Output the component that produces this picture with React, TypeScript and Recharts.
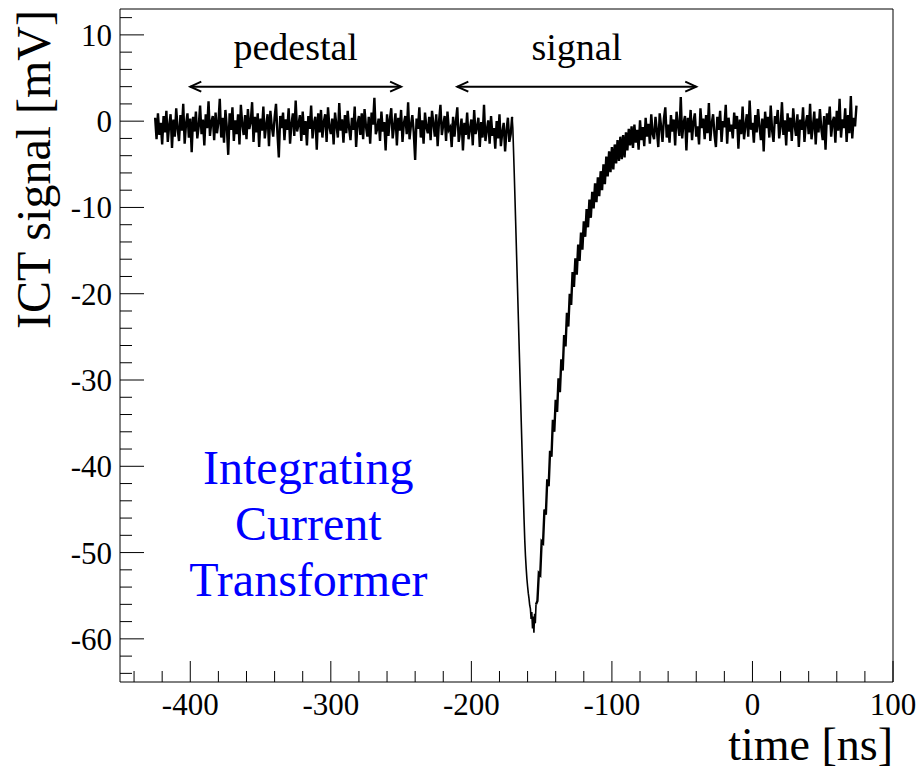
import {
  ComposedChart,
  Line,
  XAxis,
  YAxis,
  ReferenceLine,
  ReferenceDot,
} from "recharts";

const SERIF = "'Liberation Serif', 'Times New Roman', serif";

// pedestal + pre-signal samples, 1 ns apart, starting at -425 ns
const pedestalStart = -425;
const pedestalValues = [
  0.4, -2.1, 0.9, -1.6, -0.2, -2.7, 0.6, -1.3, 1.2, -2.4, -0.5, 0.8, -3.1, 0.2, -1.8,
  1.5, -0.9, -2.3, 0.7, -1.1, 2.0, -2.6, -0.3, 0.9, -1.9, 0.3, -3.6, 0.5, -1.2, 1.1,
  -2.0, -0.6, 1.8, -1.5, 0.2, -2.8, 0.8, -0.8, 2.3, -1.7, -0.1, 0.6, -2.2, 1.0, -1.4,
  -0.2, 2.6, -1.9, 0.4, -2.5, 1.3, -0.7, -3.9, 0.9, -1.0, 1.6, -2.3, 0.1, -1.5, 0.8,
  -2.7, 1.9, -0.4, -1.6, 0.7, -2.1, 1.4, -0.9, -0.1, 2.2, -2.4, 0.5, -1.3, 0.9, -3.0,
  0.3, -1.1, 1.7, -2.0, -0.5, 0.8, -2.9, 1.2, -0.6, -1.8, 0.4, 2.0, -1.4, -4.2, 0.6,
  -0.8, 1.0, -2.2, 0.2, -1.0, 1.5, -2.6, -0.3, 0.9, -1.7, 2.4, -1.2, -0.4, 0.7, -2.3,
  1.1, -1.6, 0.0, -2.8, 0.6, -0.9, 1.8, -2.0, -0.2, 0.5, -3.3, 0.9, -1.3, 1.3, -1.9,
  -0.1, 0.8, -2.4, 1.6, -0.7, -1.5, 0.3, -2.7, 1.0, -0.5, -1.9, 2.1, -1.1, 0.2, -2.5,
  0.7, -1.4, 1.2, -0.8, -2.2, 0.4, -1.0, 1.7, -3.0, -0.3, 0.6, -1.6, 0.9, -2.1, 1.4,
  -0.6, -1.8, 0.5, -2.6, 1.0, -0.4, 2.7, -1.5, -0.9, 0.3, -2.3, 1.1, -1.2, -0.1, -3.4,
  0.8, -1.7, 0.2, 1.5, -2.0, -0.6, 0.9, -2.8, 0.4, -1.1, 1.3, -2.4, -0.2, 0.6, -1.5,
  2.2, -2.1, -0.5, 0.7, -1.3, -4.5, 0.3, -0.9, 1.6, -1.9, 0.1, -2.6, 1.0, -0.7, -1.4,
  0.5, -2.2, 1.2, -0.3, -1.8, 0.8, -2.9, 0.0, 1.9, -1.6, -0.4, 0.6, -2.3, 1.1, -1.0,
  -0.7, -3.0, 0.5, -1.8, 0.0, 1.6, -2.4, -1.2, 0.3, -3.4, -0.2, -1.6, 1.0, -2.1, -0.9,
  0.2, -2.8, 1.3, -1.5, -0.7, 0.4, -3.0, -0.1, -1.9, 1.9, -2.3, -1.0, 0.1, -2.6, 0.6,
  -1.7, -0.8, -3.2, 0.0, -2.0, 0.8, -2.9, -1.3, -0.2, -3.5, -1.1, 0.4, -2.4, -1.5, 0.5,
];

// steep falling edge and minimum (starts at the last pedestal sample)
const pulseTimes = [
  -171, -170.5, -170, -169.5, -169, -168.5, -168, -167.5, -167, -166.5, -166, -165.5, -165,
  -164.5, -164, -163.5, -163, -162.5, -162, -161.5, -161, -160.5, -160, -159.5, -159,
  -158.5, -158, -157.5, -157, -156.5, -156, -155.5, -155, -154.5, -154,
];
const pulseValues = [
  0.5, -0.8, -3.4, -6.0, -8.8, -11.6, -14.5, -17.4, -20.3, -23.2, -26.1, -29.0, -31.9,
  -34.9, -37.8, -40.7, -43.5, -46.2, -48.6, -50.4, -51.8, -53.0, -53.9, -54.7, -55.3,
  -56.1, -56.5, -57.7, -56.9, -58.8, -57.4, -59.3, -57.1, -58.2, -56.0,
];

// recovery, 1 ns apart from -154 ns (first value = last pulse sample)
const recoveryStart = -154;
const recoveryValues = [
  -56.0, -55.6, -52.4, -52.6, -48.7, -48.9, -45.0, -45.6, -41.5, -42.3, -38.2,
  -38.9, -34.6, -36.0, -32.3, -33.7, -29.8, -31.4, -27.6, -28.9, -24.8,
  -26.1, -22.2, -23.8, -20.0, -21.3, -17.5, -19.2, -15.9, -17.8, -14.3,
  -16.2, -12.9, -14.9, -11.6, -13.4, -10.2, -12.3, -9.1, -11.2, -8.2,
  -10.1, -7.2, -9.4, -6.5, -8.7, -5.8, -8.0, -5.0, -7.3, -4.1,
  -6.4, -3.5, -5.9, -3.0, -5.6, -2.7, -4.9, -2.2, -4.6, -1.8,
  -4.4, -1.6, -4.2, -1.3,
];

// baseline after the pulse, 1 ns apart from -89 ns
const tailStart = -89;
const tailValues = [
  -3.4, -0.9, -2.8, -0.6, -3.1, -0.4, -2.5, -1.0, -3.3, 0.1, -2.2, -0.7, -2.9, 0.4, -1.8,
  -0.3, -2.6, 0.8, -1.5, -2.1, 0.5, -1.1, -3.0, 0.9, -0.6, -2.4, 0.3, 1.6, -1.9, -0.4,
  -2.5, 0.7, -1.2, 0.2, -2.8, 1.1, -0.5, -1.7, 2.8, -2.0, -0.2, 0.6, -3.4, 0.4, -1.3,
  1.3, -2.2, -0.1, 0.9, -1.8, -0.6, -2.7, 1.5, -0.8, 0.3, -2.1, 0.7, -1.4, 2.1, -2.3,
  -0.3, 0.8, -1.6, -3.0, 0.5, -1.0, 1.2, -2.4, 0.0, -0.7, 1.9, -2.6, 0.4, -1.2, -0.4,
  -2.0, 1.0, -0.9, 0.6, -3.2, 0.2, -1.5, 1.7, -2.1, -0.5, 0.8, -1.8, 2.4, -1.0, -0.2,
  -2.5, 0.7, -1.3, 1.4, -0.6, -2.2, 0.3, -3.5, 1.1, -0.8, 0.5, -1.9, 1.8, -1.1, -2.4,
  0.6, -0.3, 1.3, -2.0, -0.7, 2.2, -1.6, 0.1, -2.8, 0.9, -1.2, 0.4, -2.3, 1.5, -0.5,
  -1.7, 0.8, -3.0, 0.2, -1.0, 1.6, -2.4, -0.2, 0.7, -1.5, 2.0, -2.1, -0.6, 1.1, -2.7,
  0.3, -1.3, 1.4, -0.9, -2.2, 0.6, -3.3, 0.9, -0.4, 1.7, -1.8, -0.1, 0.5, -2.5, 1.2,
  -1.1, 2.6, -1.9, 0.2, -0.8, 1.5, -2.4, 0.7, -1.4, 2.9, -2.0, 0.4, -0.6, 1.8,
];

const xTicks = [
  -440, -420, -400, -380, -360, -340, -320, -300, -280, -260, -240, -220, -200,
  -180, -160, -140, -120, -100, -80, -60, -40, -20, 0, 20, 40, 60, 80, 100,
];
const yTicks = [
  -64, -62, -60, -58, -56, -54, -52, -50, -48, -46, -44, -42, -40, -38, -36, -34,
  -32, -30, -28, -26, -24, -22, -20, -18, -16, -14, -12, -10, -8, -6, -4, -2, 0,
  2, 4, 6, 8, 10, 12,
];

// annotations (data coordinates)
const pedestalRange = [-400, -250];
const signalRange = [-210, -40];
const arrowLevel = 4;
const annotationLevel = 7.1;
const ictLabel = ["Integrating", "Current", "Transformer"];
const ictPos = { t: -316, v: -48.5 };

const pedestalData = pedestalValues.map((v, i) => ({ t: pedestalStart + i, v }));
const pulseData = pulseTimes.map((t, i) => ({ t, v: pulseValues[i] }));
const afterData = [
  ...recoveryValues.map((v, i) => ({ t: recoveryStart + i, v })),
  ...tailValues.map((v, i) => ({ t: tailStart + i, v })),
];

const XTick = (props: any) => {
  const { x, y, payload } = props;
  const major = payload.value % 100 === 0;
  return (
    <g>
      <line x1={x} y1={y} x2={x} y2={y - (major ? 21 : 11)} stroke="#000" strokeWidth={1} />
      {major && (
        <text x={x} y={y + 33} textAnchor="middle" fontSize={31} fontFamily={SERIF} fill="#000">
          {payload.value}
        </text>
      )}
    </g>
  );
};

const YTick = (props: any) => {
  const { x, y, payload } = props;
  const major = payload.value % 10 === 0;
  return (
    <g>
      <line x1={x} y1={y} x2={x + (major ? 24 : 12)} y2={y} stroke="#000" strokeWidth={1} />
      {major && (
        <text x={x - 8} y={y + 11} textAnchor="end" fontSize={31} fontFamily={SERIF} fill="#000">
          {payload.value}
        </text>
      )}
    </g>
  );
};

const Arrow = (props: any) => {
  const { x1, y1, x2, y2 } = props;
  const h = 11;
  const w = 5;
  return (
    <g stroke="#000" strokeWidth={2} fill="none">
      <line x1={x1} y1={y1} x2={x2} y2={y2} />
      <path d={`M${x1 + h},${y1 - w} L${x1},${y1} L${x1 + h},${y1 + w}`} />
      <path d={`M${x2 - h},${y2 - w} L${x2},${y2} L${x2 - h},${y2 + w}`} />
    </g>
  );
};

const wordShape = (word: string) => (props: any) => (
  <text x={props.cx} y={props.cy} textAnchor="middle" fontSize={38} fontFamily={SERIF} fill="#000">
    {word}
  </text>
);

const IctShape = (props: any) => (
  <text textAnchor="middle" fontSize={48} fontFamily={SERIF} fill="#0000ff">
    {ictLabel.map((line, i) => (
      <tspan key={line} x={props.cx} y={props.cy + (i - 1) * 56}>
        {line}
      </tspan>
    ))}
  </text>
);

export default function App() {
  return (
    <div style={{ position: "absolute", left: 0, top: 0, background: "#fff" }}>
      <ComposedChart
        width={922}
        height={776}
        margin={{ top: 9, right: 29, bottom: 0, left: 0 }}
      >
        <XAxis
          dataKey="t"
          type="number"
          domain={[-450, 100]}
          allowDataOverflow
          ticks={xTicks}
          interval={0}
          height={94}
          tickSize={0}
          tickMargin={0}
          tickLine={false}
          tick={<XTick />}
          axisLine={{ stroke: "#000" }}
          label={(p: any) => {
            const vb = p.viewBox || { x: 120, y: 682, width: 773, height: 94 };
            return (
              <text x={vb.x + vb.width} y={vb.y + 78} textAnchor="end" fontSize={46} fontFamily={SERIF} fill="#000">
                time [ns]
              </text>
            );
          }}
        />
        <YAxis
          type="number"
          domain={[-65, 13]}
          allowDataOverflow
          ticks={yTicks}
          interval={0}
          width={120}
          tickSize={0}
          tickMargin={0}
          tickLine={false}
          tick={<YTick />}
          axisLine={{ stroke: "#000" }}
          label={(p: any) => {
            const vb = p.viewBox || { x: 0, y: 9, width: 120, height: 673 };
            const lx = vb.x + 50;
            const ly = vb.y + 1;
            return (
              <text
                x={lx}
                y={ly}
                transform={`rotate(-90, ${lx}, ${ly})`}
                textAnchor="end"
                fontSize={48}
                fontFamily={SERIF}
                fill="#000"
              >
                ICT signal [mV]
              </text>
            );
          }}
        />
        <ReferenceLine x={100} stroke="#000" />
        <ReferenceLine y={13} stroke="#000" />
        <ReferenceLine
          segment={[
            { x: pedestalRange[0], y: arrowLevel },
            { x: pedestalRange[1], y: arrowLevel },
          ]}
          shape={<Arrow />}
        />
        <ReferenceLine
          segment={[
            { x: signalRange[0], y: arrowLevel },
            { x: signalRange[1], y: arrowLevel },
          ]}
          shape={<Arrow />}
        />
        <ReferenceDot
          x={(pedestalRange[0] + pedestalRange[1]) / 2}
          y={annotationLevel}
          r={0}
          shape={wordShape("pedestal")}
        />
        <ReferenceDot
          x={(signalRange[0] + signalRange[1]) / 2}
          y={annotationLevel}
          r={0}
          shape={wordShape("signal")}
        />
        <ReferenceDot x={ictPos.t} y={ictPos.v} r={0} shape={IctShape} />
        <Line
          data={pedestalData}
          dataKey="v"
          type="linear"
          stroke="#000"
          strokeWidth={2.4}
          dot={false}
          activeDot={false}
          isAnimationActive={false}
        />
        <Line
          data={pulseData}
          dataKey="v"
          type="linear"
          stroke="#000"
          strokeWidth={1.6}
          dot={false}
          activeDot={false}
          isAnimationActive={false}
        />
        <Line
          data={afterData}
          dataKey="v"
          type="linear"
          stroke="#000"
          strokeWidth={2.4}
          dot={false}
          activeDot={false}
          isAnimationActive={false}
        />
      </ComposedChart>
    </div>
  );
}
